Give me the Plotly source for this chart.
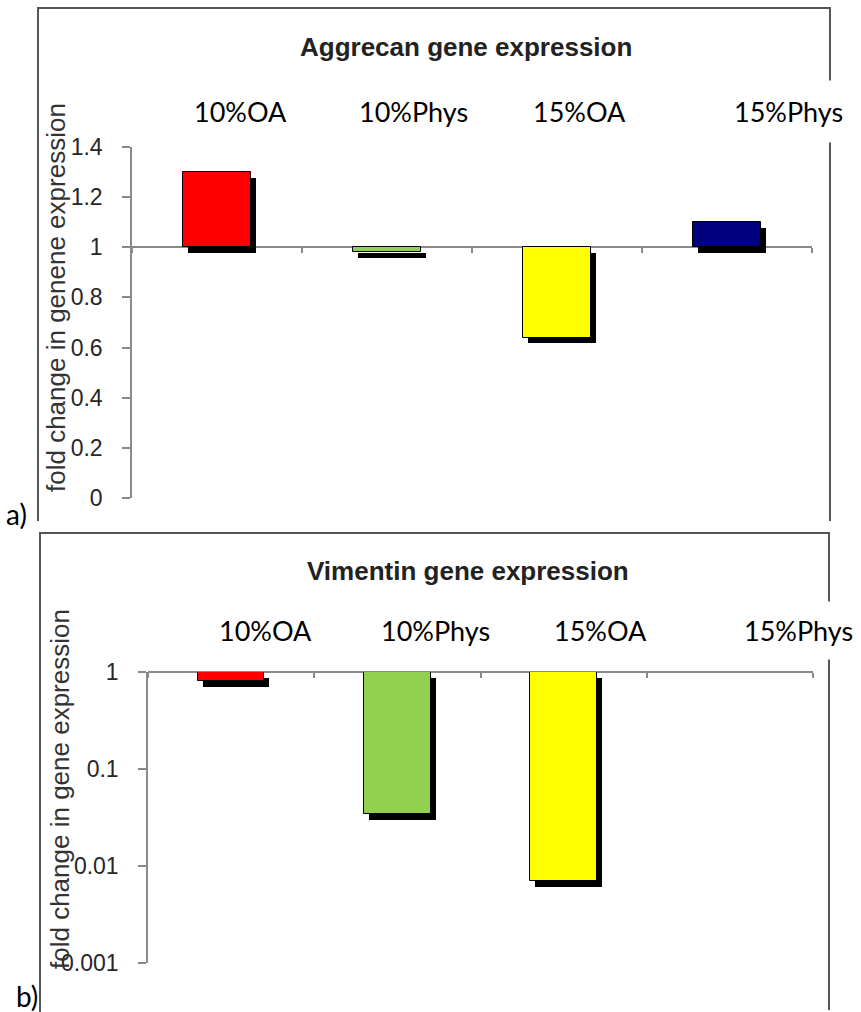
import plotly.graph_objects as go

W, H = 861, 1012

# ---------------- data ----------------
categories = ["10%OA", "10%Phys", "15%OA", "15%Phys"]
bar_colors = ["#FF0000", "#92D050", "#FFFF00", "#000080"]
aggrecan_values = [1.30, 0.98, 0.64, 1.10]
vimentin_values = [0.81, 0.034, 0.007, None]
aggrecan_ticks = [0, 0.2, 0.4, 0.6, 0.8, 1, 1.2, 1.4]
vimentin_ticks = [0.001, 0.01, 0.1, 1]
vimentin_ticktext = ["0.001", "0.01", "0.1", "1"]
titles = ["Aggrecan gene expression", "Vimentin gene expression"]
ytitles = ["fold change in genene expression", "fold change in gene expression"]
panel_letters = ["a)", "b)"]
baseline = 1.0


def px(x):
    return x / W


def py(y):
    return 1 - y / H


BAR_W = 0.4
SH_DX = 0.03

fig = go.Figure()

# ---- top (linear) panel ----
lin_dy = 0.022
fig.add_trace(go.Bar(
    x=categories,
    base=[baseline - lin_dy] * 4,
    y=[(v - baseline) if v is not None else None for v in aggrecan_values],
    width=BAR_W, offset=-BAR_W / 2 + SH_DX,
    marker=dict(color="#000000", line=dict(width=0)),
    xaxis="x", yaxis="y", showlegend=False, hoverinfo="skip"))
fig.add_trace(go.Bar(
    x=categories,
    base=[baseline] * 4,
    y=[(v - baseline) if v is not None else None for v in aggrecan_values],
    width=BAR_W, offset=-BAR_W / 2,
    marker=dict(color=bar_colors, line=dict(color="#000000", width=1)),
    xaxis="x", yaxis="y", showlegend=False))

# ---- bottom (log) panel ----
log_f = 10 ** (-0.062)
fig.add_trace(go.Bar(
    x=categories,
    base=[baseline * log_f] * 4,
    y=[(v * log_f - baseline * log_f) if v is not None else None for v in vimentin_values],
    width=BAR_W, offset=-BAR_W / 2 + SH_DX,
    marker=dict(color="#000000", line=dict(width=0)),
    xaxis="x2", yaxis="y2", showlegend=False, hoverinfo="skip"))
fig.add_trace(go.Bar(
    x=categories,
    base=[baseline] * 4,
    y=[(v - baseline) if v is not None else None for v in vimentin_values],
    width=BAR_W, offset=-BAR_W / 2,
    marker=dict(color=bar_colors, line=dict(color="#000000", width=1)),
    xaxis="x2", yaxis="y2", showlegend=False))

# axis domains
ydom1 = [py(498), py(147)]
ydom2 = [py(963), py(672)]
yr1 = [0, 1.4]
pos1 = ydom1[0] + (baseline - yr1[0]) / (yr1[1] - yr1[0]) * (ydom1[1] - ydom1[0])
pos2 = ydom2[1]

axis_col = "#8a8a8a"
tick_font = dict(family="Liberation Sans, Arial, sans-serif", size=23, color="#262626")

common_x = dict(range=[-0.5, 3.5], showline=True, linecolor=axis_col, linewidth=1.5,
                ticks="outside", ticklen=5, tickcolor=axis_col, tickwidth=1.5,
                tickson="boundaries", showticklabels=False, showgrid=False,
                zeroline=False, layer="below traces", anchor="free", fixedrange=True,
                automargin=False)
common_y = dict(showline=True, linecolor=axis_col, linewidth=1.5, ticks="outside",
                ticklen=8, tickcolor=axis_col, tickwidth=1.5, showgrid=False,
                zeroline=False, tickfont=tick_font, ticklabelstandoff=15,
                automargin=False)

fig.update_layout(
    width=W, height=H, margin=dict(l=0, r=0, t=0, b=0, pad=0, autoexpand=False),
    paper_bgcolor="white", plot_bgcolor="white",
    barmode="overlay", bargap=0,
    xaxis=dict(domain=[px(132), px(812)], position=pos1, **common_x),
    yaxis=dict(domain=ydom1, range=yr1, tickvals=aggrecan_ticks, anchor="x", **common_y),
    xaxis2=dict(domain=[px(148), px(813)], position=pos2, **common_x),
    yaxis2=dict(domain=ydom2, type="log", range=[-3, 0], tickvals=vimentin_ticks,
                ticktext=vimentin_ticktext, anchor="x2", **common_y),
)

shapes = [
    dict(type="path", xref="paper", yref="paper",
         path=f"M {px(38)},{py(521)} L {px(38)},{py(8)} L {px(830)},{py(8)} L {px(830)},{py(521)}",
         line=dict(color="#555555", width=2)),
    dict(type="path", xref="paper", yref="paper",
         path=f"M {px(40)},{py(1012)} L {px(40)},{py(533)} L {px(829)},{py(533)} L {px(829)},{py(1010)}",
         line=dict(color="#555555", width=2)),
]
fig.update_layout(shapes=shapes)

ann = []
title_font = dict(family="Liberation Sans, Arial, sans-serif", size=26, color="#222222")
ann.append(dict(text="<b>" + titles[0] + "</b>", x=px(466), y=py(47), xref="paper", yref="paper",
                showarrow=False, font=title_font, xanchor="center", yanchor="middle"))
ann.append(dict(text="<b>" + titles[1] + "</b>", x=px(468), y=py(571), xref="paper", yref="paper",
                showarrow=False, font=title_font, xanchor="center", yanchor="middle"))

ytitle_font = dict(family="Liberation Sans, Arial, sans-serif", size=26, color="#333333")
ann.append(dict(text=ytitles[0], x=px(56), y=py(298), xref="paper", yref="paper",
                showarrow=False, font=ytitle_font, textangle=-90,
                xanchor="center", yanchor="middle"))
ann.append(dict(text=ytitles[1], x=px(60), y=py(789), xref="paper", yref="paper",
                showarrow=False, font=ytitle_font, textangle=-90,
                xanchor="center", yanchor="middle"))

label_font = dict(family="Lato, 'Open Sans', sans-serif", size=27, color="#000000")
top_lefts = [193, 358, 532, 733]
bot_lefts = [218, 380, 553, 743]
PAD_T, PAD_B = 14, 12
for i, c in enumerate(categories):
    ann.append(dict(text=c, x=px(top_lefts[i] - PAD_T), y=py(111), xref="paper", yref="paper",
                    showarrow=False, font=label_font, xanchor="left", yanchor="middle",
                    bgcolor="white", borderpad=PAD_T))
    ann.append(dict(text=c, x=px(bot_lefts[i] - PAD_B), y=py(630), xref="paper", yref="paper",
                    showarrow=False, font=label_font, xanchor="left", yanchor="middle",
                    bgcolor="white", borderpad=PAD_B))

letter_font = dict(family="Lato, 'Open Sans', sans-serif", size=28, color="#000000")
ann.append(dict(text=panel_letters[0], x=px(4), y=py(514), xref="paper", yref="paper",
                showarrow=False, font=letter_font, xanchor="left", yanchor="middle"))
ann.append(dict(text=panel_letters[1], x=px(14), y=py(996), xref="paper", yref="paper",
                showarrow=False, font=letter_font, xanchor="left", yanchor="middle"))

fig.update_layout(annotations=ann)

fig.write_html(
    "out.html",
    config={"displayModeBar": False},
    post_script="document.body.style.margin='0';document.body.style.overflow='hidden';",
)
